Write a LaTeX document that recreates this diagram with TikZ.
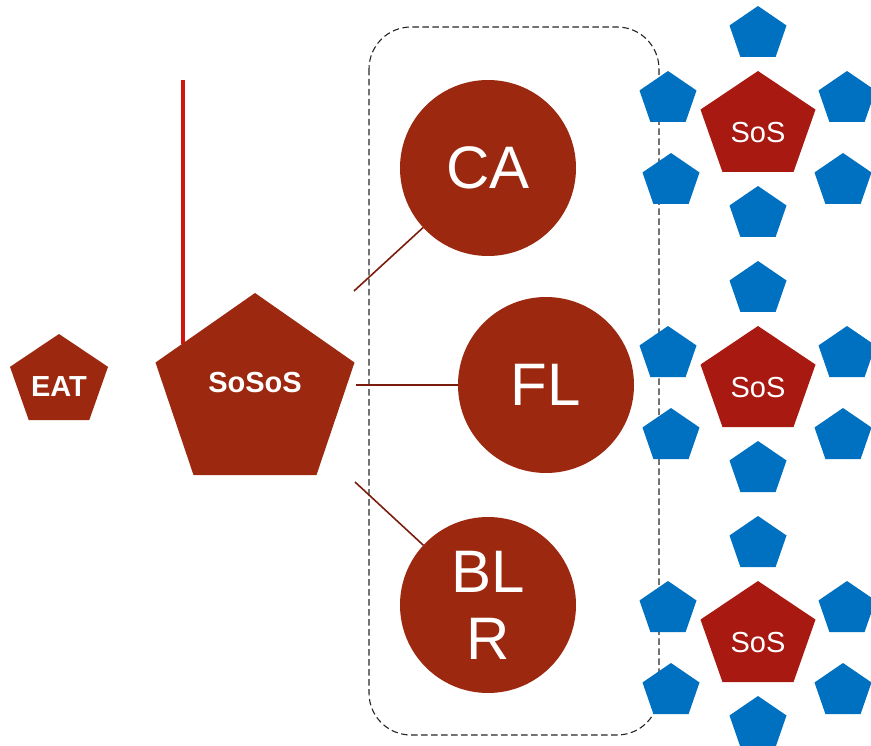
\documentclass[tikz,border=0pt]{standalone}
\usepackage{fontspec}
\setmainfont{Liberation Sans}
\definecolor{rust}{HTML}{9C2810}
\definecolor{sosred}{HTML}{A81911}
\definecolor{sysblue}{HTML}{0070C0}
\definecolor{linkbrown}{HTML}{7B1D0C}
\definecolor{stemred}{HTML}{D2140C}
% pentagon: #1 fill, (#2,#3) top vertex, #4 width, #5 height
\newcommand\pentagon[5]{%
  \fill[#1] (#2,#3) -- (#2+0.5*#4,#3+0.382*#5) -- (#2+0.309*#4,#3+#5)
    -- (#2-0.309*#4,#3+#5) -- (#2-0.5*#4,#3+0.382*#5) -- cycle;}
% SoS cluster: central SoS pentagon with six constituent systems, #1 = top of SoS, #2 = name
\newcommand\soscluster[2]{%
  \pentagon{sysblue}{758}{#1-65}{57}{51}
  \pentagon{sysblue}{668}{#1}{57}{51}
  \pentagon{sysblue}{847}{#1}{57}{51}
  \pentagon{sysblue}{671}{#1+82}{57}{51}
  \pentagon{sysblue}{843}{#1+82}{57}{51}
  \pentagon{sysblue}{758}{#1+115}{57}{51}
  \pentagon{sosred}{758}{#1}{115}{101}
  \node[lbl, font=\fontsize{29}{32}\selectfont] (#2) at (758,#1+62) {SoS};}
\tikzset{
  lbl/.style={text=white, inner sep=0pt, align=center},
  hub/.style={circle, fill=rust, minimum size=176, inner sep=0pt, outer sep=0pt,
    text=white, align=center, font=\fontsize{60}{67}\selectfont},
  link/.style={draw=linkbrown, line width=1.6pt},
  groupbox/.style={draw=black!85, line width=1.1pt, dash pattern=on 6.5pt off 3.5pt,
    rounded corners=42},
}
\begin{document}
\begin{tikzpicture}[x=1pt, y=-1pt]
\useasboundingbox (0,0) rectangle (871,746);
% dashed group boundary
\draw[groupbox] (369,27) rectangle (659,735);
% stem above SoSoS
\coordinate (stemtop) at (183,80);
\coordinate (stembase) at (183,344);
\draw[stemred, line width=3.6pt] (stemtop) -- (stembase);
% EAT and SoSoS
\pentagon{rust}{59}{334}{98}{86}
\node[lbl, font=\bfseries\fontsize{29}{32}\selectfont] (eat) at (59,387) {EAT};
\pentagon{rust}{255}{293}{199}{182}
\node[lbl, font=\bfseries\fontsize{29}{32}\selectfont] (sosos) at (255,383) {SoSoS};
% hubs
\node[hub] (ca) at (488,168) {CA};
\node[hub] (fl) at (546,385) {FL};
\node[hub] (blr) at (488,605) {BL\\R};
% links from SoSoS
\coordinate (s1) at (354,291);
\coordinate (s2) at (356,385);
\coordinate (s3) at (355,482);
\draw[link] (s1) -- (ca);
\draw[link] (s2) -- (fl);
\draw[link] (s3) -- (blr);
% SoS clusters
\soscluster{71}{sosA}
\soscluster{326}{sosB}
\soscluster{581}{sosC}
\end{tikzpicture}
\end{document}
